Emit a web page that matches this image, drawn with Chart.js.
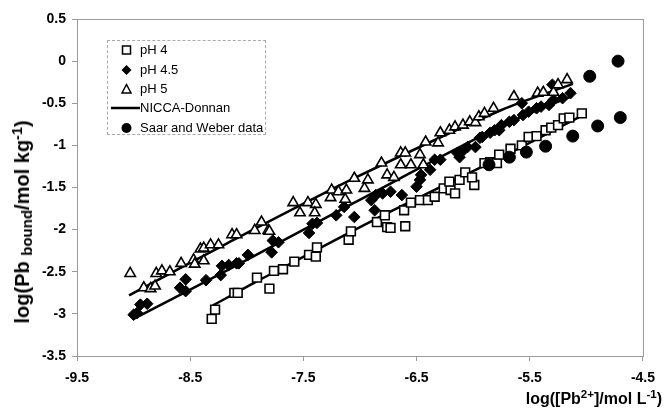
<!DOCTYPE html>
<html>
<head>
<meta charset="utf-8">
<script src="https://cdn.jsdelivr.net/npm/chart.js@4.4.0/dist/chart.umd.min.js"></script>
<style>
  html, body { margin: 0; padding: 0; background: #fff; }
  #wrap { position: relative; width: 664px; height: 412px; font-family: "Liberation Sans", Arial, sans-serif; }
  #c { position: absolute; left: 0; top: 0; }
  .legend { position: absolute; left: 107px; top: 40px; width: 159px; height: 95px; border: 1px dashed #aaa; box-sizing: border-box; font-size: 13px; color: #000; }
  .row { position: absolute; left: 0; height: 16px; line-height: 16px; }
  .row svg { position: absolute; top: 0; }
  .row span { position: absolute; left: 32px; white-space: nowrap; }
  .ytitle { position: absolute; left: 23px; top: 222px; transform: translate(-50%, -50%) rotate(-90deg); font-weight: bold; font-size: 20px; white-space: nowrap; color: #000; }
  .ytitle sub { font-size: 15px; vertical-align: -3px; }
  .ytitle sup, .xtitle sup { font-size: 0.72em; vertical-align: 0.5em; line-height: 0; }
  .xtitle { position: absolute; right: 2px; top: 389px; font-weight: bold; font-size: 16px; white-space: nowrap; color: #000; line-height: 20px; }
</style>
</head>
<body>
<div id="wrap">
  <canvas id="c" width="664" height="412"></canvas>
  <div class="legend">
    <div class="row" style="top:1px"><svg width="30" height="16" style="left:0"><rect x="14.5" y="4" width="8" height="8" fill="#fff" stroke="#000" stroke-width="1.5"/></svg><span>pH 4</span></div>
    <div class="row" style="top:21px"><svg width="30" height="16" style="left:0"><polygon points="18.5,3 23.5,8 18.5,13 13.5,8" fill="#000"/></svg><span>pH 4.5</span></div>
    <div class="row" style="top:40px"><svg width="30" height="16" style="left:0"><polygon points="18.5,3.5 23,12 14,12" fill="#fff" stroke="#000" stroke-width="1.5"/></svg><span>pH 5</span></div>
    <div class="row" style="top:59px"><svg width="34" height="16" style="left:3px"><line x1="0" y1="8" x2="29" y2="8" stroke="#000" stroke-width="2.5"/></svg><span>NICCA-Donnan</span></div>
    <div class="row" style="top:79px"><svg width="30" height="16" style="left:0"><circle cx="18.5" cy="8" r="5" fill="#000"/></svg><span>Saar and Weber data</span></div>
  </div>
  <div class="ytitle">log(Pb <sub>bound</sub>/mol kg<sup>-1</sup>)</div>
  <div class="xtitle">log([Pb<sup>2+</sup>]/mol L<sup>-1</sup>)</div>
</div>
<script>
// ---- Axis ticks ----
const xTicks = [-9.5, -8.5, -7.5, -6.5, -5.5, -4.5];
const yTicks = [0.5, 0, -0.5, -1, -1.5, -2, -2.5, -3, -3.5];

// ---- pH 4 (open squares) ----
const pH4X = [-8.31,-8.28,-8.11,-8.08,-7.91,-7.80,-7.76,-7.68,-7.58,-7.45,-7.39,-7.38,-7.10,-7.08,-6.85,-6.78,-6.76,-6.73,-6.60,-6.61,-6.55,-6.47,-6.40,-6.34,-6.26,-6.20,-6.21,-6.16,-6.12,-6.07,-5.99,-6.01,-5.90,-5.85,-5.79,-5.77,-5.67,-5.57,-5.51,-5.44,-5.36,-5.31,-5.25,-5.20,-5.15,-5.04];
const pH4Y = [-3.06,-2.95,-2.75,-2.75,-2.57,-2.70,-2.49,-2.47,-2.38,-2.30,-2.32,-2.21,-2.12,-2.02,-1.91,-1.83,-1.97,-1.98,-1.96,-1.77,-1.68,-1.65,-1.65,-1.61,-1.51,-1.53,-1.43,-1.57,-1.41,-1.32,-1.47,-1.38,-1.21,-1.20,-1.21,-1.11,-1.04,-1.00,-0.90,-0.89,-0.82,-0.79,-0.76,-0.68,-0.67,-0.62];

// ---- pH 4.5 (filled diamonds) ----
const pH45X = [-9.00,-8.97,-8.94,-8.88,-8.59,-8.54,-8.54,-8.36,-8.23,-8.22,-8.16,-8.09,-8.07,-7.99,-7.78,-7.77,-7.72,-7.45,-7.42,-7.38,-7.21,-7.14,-7.05,-6.90,-6.87,-6.86,-6.80,-6.73,-6.63,-6.50,-6.47,-6.46,-6.38,-6.34,-6.29,-6.14,-6.12,-6.08,-6.05,-5.98,-5.94,-5.92,-5.85,-5.81,-5.77,-5.75,-5.68,-5.64,-5.57,-5.56,-5.51,-5.44,-5.40,-5.33,-5.29,-5.21,-5.14,-5.30];
const pH45Y = [-3.01,-2.99,-2.89,-2.88,-2.69,-2.73,-2.59,-2.60,-2.54,-2.43,-2.42,-2.40,-2.40,-2.30,-2.27,-2.13,-2.15,-2.04,-1.93,-1.92,-1.83,-1.73,-1.85,-1.65,-1.77,-1.59,-1.57,-1.55,-1.59,-1.49,-1.41,-1.35,-1.29,-1.17,-1.17,-1.09,-1.14,-1.05,-1.02,-1.02,-0.91,-0.90,-0.85,-0.82,-0.82,-0.76,-0.72,-0.70,-0.50,-0.64,-0.60,-0.56,-0.54,-0.52,-0.46,-0.44,-0.38,-0.28];

// ---- pH 5 (open triangles) ----
const pH5X = [-9.03,-8.91,-8.85,-8.81,-8.80,-8.75,-8.68,-8.58,-8.47,-8.46,-8.38,-8.41,-8.38,-8.32,-8.25,-8.13,-8.09,-7.93,-7.81,-7.87,-7.80,-7.59,-7.53,-7.46,-7.39,-7.40,-7.26,-7.25,-7.19,-7.12,-7.13,-7.05,-6.96,-6.93,-6.81,-6.76,-6.70,-6.64,-6.60,-6.64,-6.55,-6.47,-6.44,-6.42,-6.31,-6.29,-6.21,-6.16,-6.09,-6.03,-5.98,-5.95,-5.90,-5.82,-5.64,-5.43,-5.38,-5.29,-5.25,-5.17];
const pH5Y = [-2.52,-2.69,-2.70,-2.67,-2.52,-2.49,-2.50,-2.40,-2.36,-2.41,-2.37,-2.23,-2.22,-2.18,-2.18,-2.06,-2.06,-2.01,-2.01,-1.91,-2.02,-1.68,-1.80,-1.68,-1.70,-1.80,-1.62,-1.53,-1.55,-1.53,-1.64,-1.39,-1.51,-1.41,-1.21,-1.35,-1.38,-1.09,-1.09,-1.23,-1.23,-1.11,-1.23,-0.96,-0.97,-0.85,-0.82,-0.78,-0.76,-0.72,-0.73,-0.66,-0.62,-0.56,-0.42,-0.38,-0.37,-0.37,-0.28,-0.22];

// ---- NICCA-Donnan model curves ----
const niccaPH5X = [-9.04, -8.17, -7.05, -5.75, -5.12];
const niccaPH5Y = [-2.78, -2.16, -1.39, -0.58, -0.27];
const niccaPH45X = [-9.00, -8.17, -7.05, -5.75, -5.12];
const niccaPH45Y = [-3.06, -2.48, -1.68, -0.77, -0.41];
const niccaPH4X = [-8.30, -7.89, -6.87, -5.66, -5.03];
const niccaPH4Y = [-2.90, -2.60, -1.88, -1.08, -0.64];

// ---- Saar and Weber data (filled circles) ----
const saarX = [-5.86, -5.68, -5.53, -5.36, -5.12, -4.90, -4.70, -4.97, -4.72];
const saarY = [-1.23, -1.14, -1.08, -1.01, -0.89, -0.77, -0.67, -0.18, 0.00];

const pts = (xs, ys) => xs.map((x, i) => ({ x, y: ys[i] }));
const lineDs = (xs, ys) => ({
  data: pts(xs, ys), showLine: true, borderColor: '#000', borderWidth: 2.5,
  pointRadius: 0, fill: false, tension: 0.3, order: 10
});

const framePlugin = {
  id: 'frame',
  afterDraw(chart) {
    const a = chart.chartArea, ctx = chart.ctx;
    ctx.save();
    ctx.strokeStyle = '#9a9a9a';
    ctx.lineWidth = 1;
    ctx.strokeRect(a.left + 0.5, a.top + 0.5, a.right - a.left, a.bottom - a.top);
    ctx.restore();
  }
};

const fmt = v => String(Math.round(v * 10) / 10);

new Chart(document.getElementById('c'), {
  type: 'scatter',
  data: {
    datasets: [
      { label: 'pH 4', data: pts(pH4X, pH4Y), pointStyle: 'rect', pointRadius: 6.2, pointBackgroundColor: '#fff', pointBorderColor: '#000', pointBorderWidth: 1.6, order: 3 },
      { label: 'pH 4.5', data: pts(pH45X, pH45Y), pointStyle: 'rectRot', pointRadius: 5.8, pointBackgroundColor: '#000', pointBorderColor: '#000', pointBorderWidth: 1, order: 2 },
      { label: 'pH 5', data: pts(pH5X, pH5Y), pointStyle: 'triangle', pointRadius: 6, pointBackgroundColor: '#fff', pointBorderColor: '#000', pointBorderWidth: 1.6, order: 1 },
      Object.assign({ label: 'NICCA-Donnan' }, lineDs(niccaPH5X, niccaPH5Y)),
      Object.assign({ label: 'NICCA-Donnan' }, lineDs(niccaPH45X, niccaPH45Y)),
      Object.assign({ label: 'NICCA-Donnan' }, lineDs(niccaPH4X, niccaPH4Y)),
      { label: 'Saar and Weber data', data: pts(saarX, saarY), pointStyle: 'circle', pointRadius: 6, pointBackgroundColor: '#000', pointBorderColor: '#000', order: 0 }
    ]
  },
  options: {
    responsive: false,
    animation: false,
    events: [],
    layout: { padding: { top: 19, right: 14, left: 0, bottom: 0 } },
    plugins: { legend: { display: false }, tooltip: { enabled: false } },
    scales: {
      x: {
        type: 'linear', min: -9.5, max: -4.5,
        afterFit: s => { s.height = 56; },
        afterBuildTicks: s => { s.ticks = xTicks.map(v => ({ value: v })); },
        grid: { drawOnChartArea: false, drawTicks: true, tickLength: 5, color: '#9a9a9a' },
        border: { display: true, color: '#9a9a9a' },
        ticks: { color: '#000', callback: fmt, font: { family: 'Liberation Sans', size: 14, weight: 'bold' }, padding: 9, maxRotation: 0, autoSkip: false }
      },
      y: {
        type: 'linear', min: -3.5, max: 0.5,
        afterFit: s => { s.width = 77; },
        afterBuildTicks: s => { s.ticks = yTicks.map(v => ({ value: v })); },
        grid: { drawOnChartArea: false, drawTicks: true, tickLength: 5, color: '#9a9a9a' },
        border: { display: true, color: '#9a9a9a' },
        ticks: { color: '#000', callback: fmt, font: { family: 'Liberation Sans', size: 14, weight: 'bold' }, padding: 6, autoSkip: false }
      }
    }
  },
  plugins: [framePlugin]
});
</script>
</body>
</html>
